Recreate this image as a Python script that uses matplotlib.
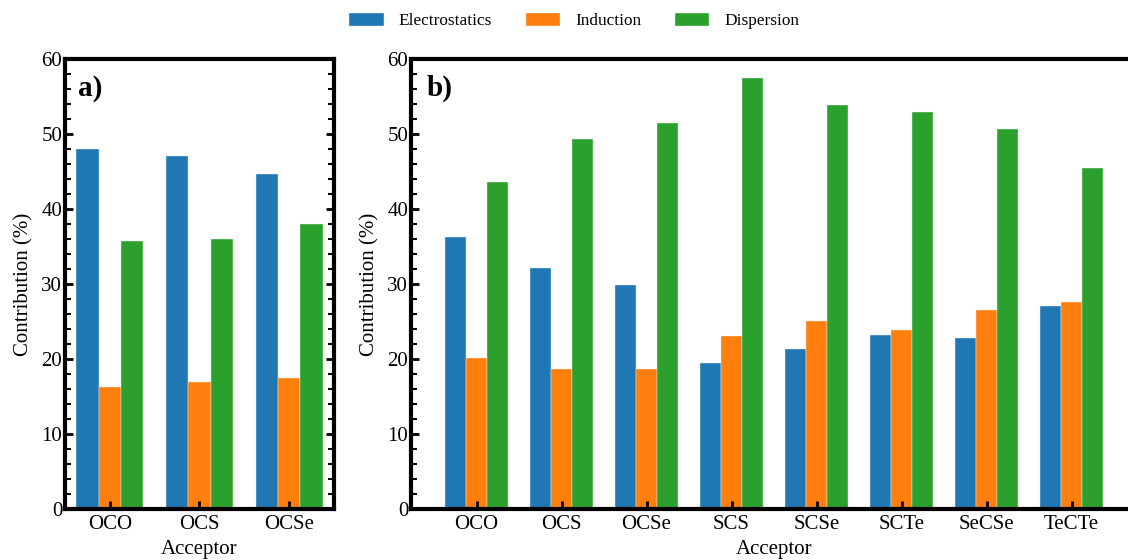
import numpy as np
import matplotlib
matplotlib.use("Agg")
import matplotlib.pyplot as plt
from matplotlib.ticker import MultipleLocator

# ---------- DATA --------------
acceptors_a = ["OCO", "OCS", "OCSe"]
elec_a = [48.0, 47.1, 44.6]
ind_a = [16.3, 16.9, 17.4]
disp_a = [35.7, 36.0, 38.0]

acceptors_b = ["OCO", "OCS", "OCSe", "SCS", "SCSe", "SCTe", "SeCSe", "TeCTe"]
elec_b = [36.2, 32.1, 29.9, 19.5, 21.3, 23.2, 22.8, 27.0]
ind_b = [20.1, 18.7, 18.6, 23.1, 25.0, 23.9, 26.5, 27.6]
disp_b = [43.6, 49.3, 51.5, 57.4, 53.8, 52.9, 50.7, 45.5]

series_names = ["Electrostatics", "Induction", "Dispersion"]
# ------------------------------

# ---------- CONFIG ------------
c = ["#1f77b4", "#ff7f0e", "#2ca02c"]
w = 0.25
plt.rcParams["font.family"] = ["Liberation Serif", "DejaVu Serif"]
# ------------------------------

fig = plt.figure(figsize=(11.28, 5.6), dpi=100)
ax_a = fig.add_axes([0.0576, 0.0911, 0.2385, 0.8036])
ax_b = fig.add_axes([0.3644, 0.0911, 0.6436, 0.8036])


def draw(ax, names, groups, xlim, tag, tag_x):
    x = np.arange(len(names))
    bars = []
    for k, vals in enumerate(groups):
        b = ax.bar(x + (k - 1) * w, vals, w, color=c[k], edgecolor="#e8f0e8",
                   linewidth=0.3, label=series_names[k])
        bars.append(b)
    ax.set_xlim(*xlim)
    ax.set_ylim(0, 60)
    ax.set_xticks(x)
    ax.set_xticklabels(names, fontsize=15)
    ax.yaxis.set_major_locator(MultipleLocator(10))
    ax.yaxis.set_minor_locator(MultipleLocator(2))
    ax.tick_params(axis="y", which="major", direction="in", length=6, width=2,
                   left=True, right=True, labelsize=15, pad=2)
    ax.tick_params(axis="y", which="minor", direction="in", length=4, width=1.5,
                   left=True, right=True)
    ax.tick_params(axis="x", which="major", direction="in", length=6, width=2,
                   labelsize=15, pad=4)
    for s in ax.spines.values():
        s.set_linewidth(3)
    ax.set_xlabel("Acceptor", fontsize=15, labelpad=5)
    ax.set_ylabel("Contribution (%)", fontsize=15, labelpad=6)
    ax.text(tag_x, 0.965, tag, transform=ax.transAxes, fontsize=21,
            fontweight="bold", va="top", ha="left")
    return bars


bars = draw(ax_a, acceptors_a, [elec_a, ind_a, disp_a], (-0.5, 2.5), "a)", 0.05)
draw(ax_b, acceptors_b, [elec_b, ind_b, disp_b], (-0.77, 7.77), "b)", 0.022)

fig.legend(handles=bars, labels=series_names, loc="center", ncol=3,
           bbox_to_anchor=(0.509, 0.962), frameon=False, fontsize=12.4,
           handlelength=2.0, handleheight=0.75, handletextpad=0.87,
           columnspacing=1.95)

fig.savefig("out.png", dpi=100)
